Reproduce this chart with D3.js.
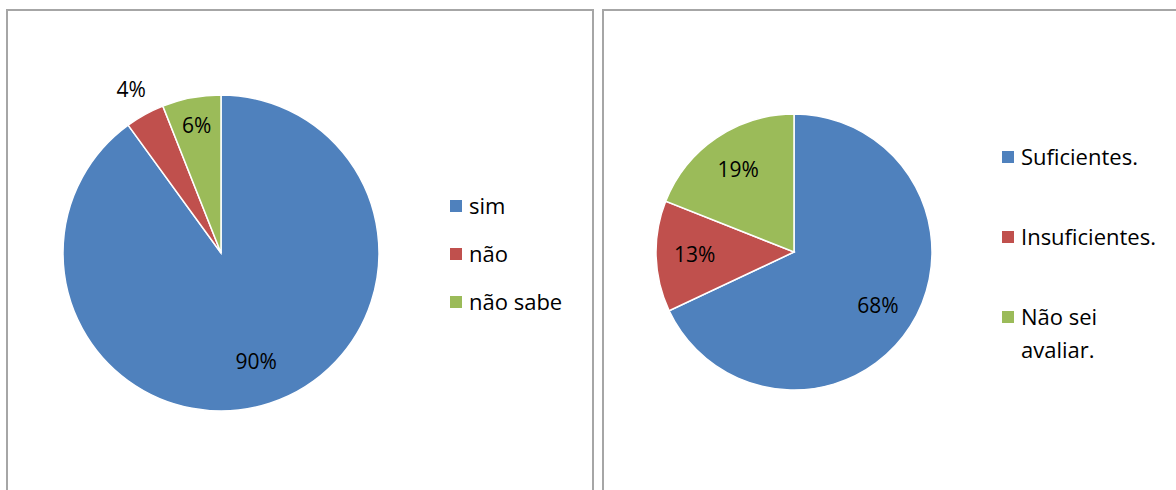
<!DOCTYPE html>
<html><head><meta charset="utf-8">
<script src="https://cdn.jsdelivr.net/npm/d3@7/dist/d3.min.js"></script>
<style>body{margin:0;background:#fff}svg{display:block}text{font-family:"Open Sans","Noto Sans",sans-serif;fill:#000}</style>
</head><body>
<svg id="c" width="1176" height="490"></svg>
<script>
const leftCategories = ["sim", "não", "não sabe"];
const leftValues = [90, 4, 6];
const rightCategories = ["Suficientes.", "Insuficientes.", "Não sei avaliar."];
const rightValues = [68, 13, 19];
const colors = ["#4f81bd", "#c0504d", "#9bbb59"];

const svg = d3.select("#c");

function panel(x0, y0, w, h, cats, vals, cx, cy, r, legX, legYs, legWrap) {
  svg.append("rect").attr("x", x0).attr("y", y0).attr("width", w).attr("height", h)
    .attr("fill", "none").attr("stroke", "#a6a6a6").attr("stroke-width", 2);
  const pie = d3.pie().sort(null).value(d => d)(vals);
  const arc = d3.arc().innerRadius(0).outerRadius(r);
  const g = svg.append("g").attr("transform", `translate(${cx},${cy})`);
  g.selectAll("path").data(pie).join("path").attr("d", arc)
    .attr("fill", (d, i) => colors[i]).attr("stroke", "#fff").attr("stroke-width", 1.5);
  g.selectAll("text").data(pie).join("text")
    .attr("transform", d => {
      const f = d.value < 5 ? 1.18 : d.value < 10 ? 0.82 : 0.72;
      const a = (d.startAngle + d.endAngle) / 2;
      return `translate(${Math.sin(a) * r * f},${-Math.cos(a) * r * f})`;
    })
    .attr("text-anchor", "middle").attr("dy", "0.35em").style("font-size", "21px")
    .text(d => d.value + "%");
  const lg = svg.append("g");
  cats.forEach((c, i) => {
    lg.append("rect").attr("x", legX).attr("y", legYs[i] - 6).attr("width", 12).attr("height", 12).attr("fill", colors[i]);
    const t = lg.append("text").attr("x", legX + 19).attr("y", legYs[i]).style("font-size", "22px");
    const parts = legWrap && c === "Não sei avaliar." ? ["Não sei", "avaliar."] : [c];
    parts.forEach((p, j) => t.append("tspan").attr("x", legX + 19).attr("dy", j === 0 ? "0.35em" : "1.5em").text(p));
  });
}

panel(7, 10, 586, 500, leftCategories, leftValues, 221, 253, 158, 450, [206, 254, 302], false);
panel(603, 10, 600, 500, rightCategories, rightValues, 794, 252, 138, 1002, [157, 237, 317], true);
</script>
</body></html>
